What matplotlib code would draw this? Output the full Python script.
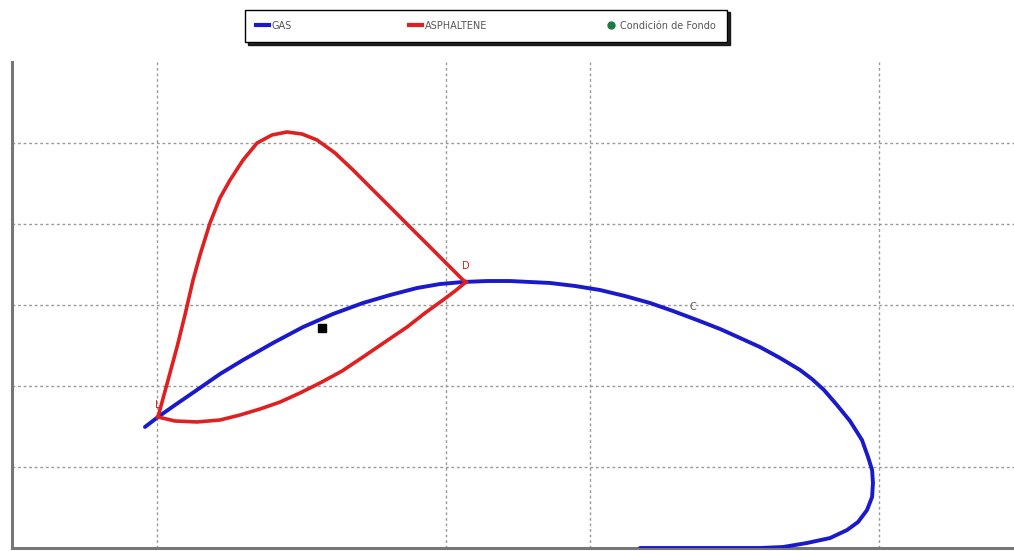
import matplotlib
matplotlib.use("Agg")
import matplotlib.pyplot as plt
from matplotlib.lines import Line2D

# GAS phase envelope (temperature-like x, pressure-like y; arbitrary units)
gas_x = [92.0, 101.0, 112.8, 128.0, 143.9, 159.9, 180.6, 201.4, 222.1, 242.9, 261.6,
         280.3, 296.2, 312.1, 328.7, 344.6, 372.3, 389.6, 406.9, 424.2, 441.5, 457.4,
         474.0, 490.0, 503.8, 517.6, 531.5, 545.3, 553.6, 561.9, 570.9, 579.9,
         588.2, 592.4, 595.2, 595.8, 595.2, 591.7, 585.5, 577.9, 566.1, 550.2, 533.6,
         517.6, 476.1, 434.6]
gas_y = [1494, 1617, 1765, 1951, 2148, 2321, 2531, 2728, 2889, 3025, 3123,
         3210, 3259, 3284, 3296, 3296, 3272, 3235, 3185, 3111, 3025, 2926,
         2815, 2704, 2593, 2481, 2346, 2198, 2086, 1951, 1765, 1568,
         1333, 1123, 963, 802, 630, 469, 321, 222, 123, 62, 12,
         0, 0, 0]

# ASPHALTENE envelope: upper branch and lower branch
asph_up_x = [101.0, 108.0, 114.2, 119.7, 125.3, 130.1, 137.0, 143.9, 150.9, 159.9, 169.6,
             179.9, 190.3, 200.7, 211.1, 223.5, 236.0, 249.8, 263.7, 276.8, 289.3, 301.7,
             312.1, 314.2]
asph_up_y = [1617, 2074, 2481, 2877, 3309, 3617, 4012, 4321, 4543, 4790, 5000,
             5099, 5136, 5111, 5037, 4877, 4667, 4420, 4173, 3938, 3716, 3494,
             3309, 3284]
asph_lo_x = [101.0, 112.8, 128.0, 143.9, 157.8, 171.6, 185.5, 199.3, 213.1, 228.4, 242.9,
             258.1, 273.4, 285.8, 298.3, 306.6, 314.2]
asph_lo_y = [1617, 1568, 1556, 1580, 1642, 1716, 1802, 1914, 2037, 2185, 2358,
             2543, 2728, 2901, 3062, 3173, 3284]

# Bottom-hole condition
fondo_x = [214.5]
fondo_y = [2716]

x_ticks = [100, 300, 400, 600]
y_ticks = [1000, 2000, 3000, 4000, 5000]

labels_txt = ["L", "D", "C"]
labels_x = [101.0, 314.2, 471.3]
labels_y = [1704, 3420, 2914]
labels_col = ["#d42020", "#d42020", "#555555"]

fig = plt.figure(figsize=(10.14, 5.51), dpi=100)
ax = fig.add_axes([12/1014, 3/551, 1002/1014, 486/551])

ax.plot(gas_x, gas_y, color="#1a1acc", lw=2.8, solid_capstyle="round",
        solid_joinstyle="round", zorder=3)
ax.plot(asph_up_x, asph_up_y, color="#e02020", lw=2.6, solid_joinstyle="round", zorder=4)
ax.plot(asph_lo_x, asph_lo_y, color="#e02020", lw=2.6, solid_joinstyle="round", zorder=4)
ax.scatter(fondo_x, fondo_y, s=40, color="black", marker="s", zorder=5)

for t, x, y, c in zip(labels_txt, labels_x, labels_y, labels_col):
    ax.text(x, y, t, color=c, fontsize=7, ha="center", va="bottom", zorder=6)

ax.set_xlim(0, 693.4)
ax.set_ylim(0, 6000)
ax.set_xticks(x_ticks)
ax.set_yticks(y_ticks)
ax.tick_params(length=0, labelbottom=False, labelleft=False)
ax.grid(True, color="#999999", linestyle=(0, (2, 2)), linewidth=1.0)
ax.set_axisbelow(True)
for s in ["top", "right"]:
    ax.spines[s].set_visible(False)
for s in ["left", "bottom"]:
    ax.spines[s].set_color("#777777")
    ax.spines[s].set_linewidth(2.2)

handles = [
    Line2D([], [], color="#1a1acc", lw=3),
    Line2D([], [], color="#e02020", lw=3),
    Line2D([], [], color="#1a7a40", marker="o", markersize=5, lw=0),
]
leg = fig.legend(handles, ["GAS", "ASPHALTENE", "Condición de Fondo"],
                 loc="lower left",
                 bbox_to_anchor=(245/1014, 1 - 42/551, 482/1014, 34/551),
                 mode="expand", ncol=3, fontsize=7, handlelength=1.3,
                 handletextpad=0.3, frameon=True, fancybox=False,
                 shadow={"color": "black", "alpha": 0.85},
                 borderaxespad=0.0, borderpad=1.15)
leg.get_frame().set_edgecolor("black")
leg.get_frame().set_linewidth(1.0)
for t in leg.get_texts():
    t.set_color("#555555")

fig.savefig("out.png", dpi=100)
